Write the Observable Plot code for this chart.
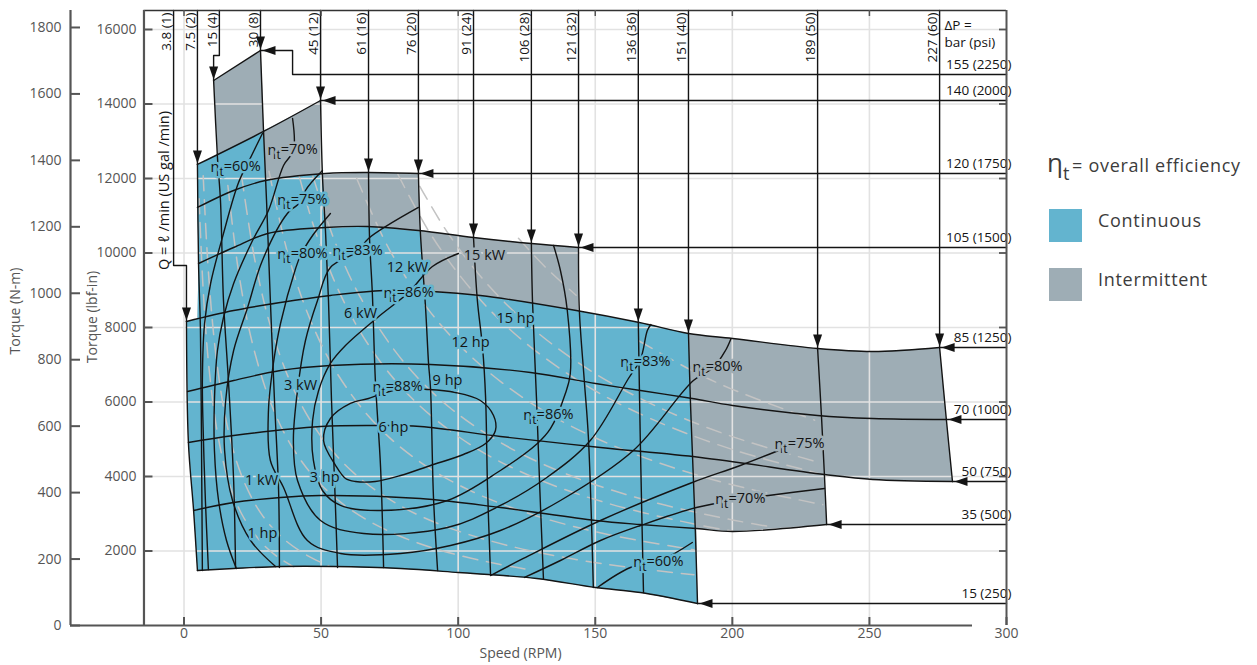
<!DOCTYPE html>
<html>
<head>
<meta charset="utf-8">
<script src="https://cdn.jsdelivr.net/npm/d3@7"></script>
<script src="https://cdn.jsdelivr.net/npm/@observablehq/plot@0.6"></script>
<style>
  html, body { margin: 0; padding: 0; background: #fff; }
  #wrap { position: relative; width: 1257px; height: 665px; font-family: "Open Sans", "Noto Sans", sans-serif; overflow: hidden; }
  #chart { position: absolute; left: 0; top: 0; }
  .lg { position: absolute; color: #3c3c3c; font-size: 18px; letter-spacing: 0.7px; white-space: nowrap; line-height: 1; }
  .sw { position: absolute; width: 33px; height: 33px; }
</style>
</head>
<body>
<div id="wrap">
  <div id="chart"></div>
  <div class="lg" style="left:1047px; top:149px;"><span style="font-size:26px; letter-spacing:0;">η</span><span style="font-size:18px; position:relative; top:8px; margin-right:2px;">t</span>= overall efficiency</div>
  <div class="sw" style="left:1049px; top:209px; background:#63b4cf;"></div>
  <div class="lg" style="left:1098px; top:211px;">Continuous</div>
  <div class="sw" style="left:1049px; top:268px; background:#9eadb5;"></div>
  <div class="lg" style="left:1098px; top:270px;">Intermittent</div>
</div>
<script>
// ---------------- DATA (Speed in RPM, Torque in lbf-in) ----------------
const xTicks = [0, 50, 100, 150, 200, 250, 300];
const lbfTicks = [2000, 4000, 6000, 8000, 10000, 12000, 14000, 16000];
const nmTicks = [0, 200, 400, 600, 800, 1000, 1200, 1400, 1600, 1800];

// constant pressure lines, ΔP bar (psi)
const pressures = [
  {bar: "15", psi: "250", pts: [[4.9,1477],[18.1,1530],[35.2,1584],[54.5,1584],[79.0,1530],[100.1,1423],[128.6,1262],[150.1,1020],[166.5,886],[187.3,591]]},
  {bar: "35", psi: "500", pts: [[3.5,3087],[18.1,3302],[35.2,3436],[49.8,3490],[86.2,3409],[115.4,3168],[150.1,2819],[166.5,2711],[186.9,2604],[200.1,2524],[234.4,2711]]},
  {bar: "50", psi: "750", pts: [[1.6,4913],[18.1,5101],[49.8,5342],[70.6,5369],[86.2,5342],[115.4,5074],[151.9,4779],[188.4,4510],[233.6,4054],[251.2,3920],[280.3,3866]]},
  {bar: "70", psi: "1000", pts: [[1.3,6282],[18.1,6577],[35.2,6846],[53.4,6980],[89.9,7007],[126.4,6792],[150.1,6497],[166.5,6309],[185.4,6094],[200.1,5906],[231.1,5638],[251.2,5557],[278.1,5530]]},
  {bar: "85", psi: "1250", pts: [[0.9,8161],[18.1,8456],[35.2,8671],[53.4,8859],[72.8,8993],[90.6,8967],[108.1,8859],[143.1,8456],[166.1,8134],[184.0,7839],[200.1,7705],[231.1,7436],[251.2,7356],[275.6,7463]]},
  {bar: "105", psi: "1500", pts: [[5.3,9718],[18.1,10148],[30.5,10524],[51.6,10685],[66.9,10712],[85.5,10604],[105.6,10416],[126.7,10255],[143.9,10148]]},
  {bar: "120", psi: "1750", pts: [[4.9,11222],[18.1,11678],[29.7,11946],[51.6,12134],[66.9,12161],[85.5,12134]]},
  {bar: "140", psi: "2000", pts: [[4.9,12376],[29.0,13262],[49.8,14094]]},
  {bar: "155", psi: "2250", pts: [[10.8,14631],[27.9,15436]]}
];

// constant flow lines, Q l/min (US gal/min); first point = top end
const flows = [
  {q: "3.8", gpm: "1", pts: [[0.9,8161],[1.6,4913],[3.5,3087],[4.9,1477]]},
  {q: "7.5", gpm: "2", pts: [[4.9,12376],[5.3,9718],[6.0,7920],[6.4,4698],[6.7,1477]]},
  {q: "15", gpm: "4", pts: [[10.8,14631],[12.2,12564],[13.3,11410],[14.4,8725],[16.2,6577],[18.1,3893],[18.8,1557]]},
  {q: "30", gpm: "8", pts: [[27.9,15436],[29.0,13289],[30.1,11410],[31.5,8725],[33.0,6040],[34.5,3624],[34.8,1557]]},
  {q: "45", gpm: "12", pts: [[49.8,14094],[50.5,12081],[51.6,10604],[52.7,8725],[53.8,6040],[54.9,3893],[56.0,1557]]},
  {q: "61", gpm: "16", pts: [[67.3,12161],[67.7,10336],[68.7,8913],[69.8,6577],[71.7,4242],[72.8,1557]]},
  {q: "76", gpm: "20", pts: [[85.5,12134],[86.2,10577],[88.1,8537],[89.2,7034],[89.9,6389],[91.0,3436],[92.5,1477]]},
  {q: "91", gpm: "24", pts: [[105.6,10416],[107.0,8725],[108.9,7463],[110.0,6121],[110.7,3705],[111.8,1396]]},
  {q: "106", gpm: "28", pts: [[126.7,10255],[127.1,8725],[128.6,6040],[129.7,3812],[131.1,1262]]},
  {q: "121", gpm: "32", pts: [[143.9,10148],[144.2,8456],[146.0,6577],[147.5,5047],[149.3,1020]]},
  {q: "136", gpm: "36", pts: [[165.7,8134],[166.5,4698],[167.6,886]]},
  {q: "151", gpm: "40", pts: [[184.0,7839],[184.7,6040],[185.4,4698],[186.5,2550],[187.3,591]]},
  {q: "189", gpm: "50", pts: [[231.1,7436],[232.5,5638],[233.6,4027],[234.4,2711]]},
  {q: "227", gpm: "60", pts: [[275.6,7463],[278.1,5503],[280.3,3866]]}
];

// operating envelopes
const continuous = [
  [4.9,1477],[3.5,3087],[1.6,4913],[0.9,8161],[4.9,8242],[5.3,9718],[4.9,11222],[4.9,12376],
  [17.0,12832],[29.0,13262],[29.7,11946],[40.7,12054],[50.5,12108],[51.6,10658],[66.9,10712],[86.2,10577],
  [87.7,8967],[90.6,8967],[108.1,8859],[126.4,8671],[143.1,8456],[166.1,8134],[184.0,7839],
  [185.4,4698],[187.3,591],[166.5,886],[150.1,1020],[128.6,1262],[100.1,1423],[79.0,1530],[54.5,1584],[35.2,1584],[18.1,1530]
];
const intermittent = [
  [4.9,1477],[3.5,3087],[1.6,4913],[0.9,8161],[4.9,8242],[5.3,9718],[4.9,11222],[4.9,12376],
  [12.2,12644],[10.8,14631],[19.5,15034],[27.9,15436],[28.6,14363],[29.0,13289],
  [39.6,13691],[49.8,14094],[50.1,13020],[50.5,12108],[66.9,12161],[85.5,12134],
  [85.9,11410],[86.2,10604],[105.6,10416],[126.7,10255],[143.9,10148],
  [143.9,9262],[143.9,8430],[166.1,8134],[184.0,7839],[200.1,7705],[231.1,7436],[251.2,7356],[275.6,7463],
  [278.1,5503],[280.3,3866],[251.2,3920],[233.6,4054],[234.4,2711],[200.1,2524],[186.9,2604],[187.3,591],
  [166.5,886],[150.1,1020],[128.6,1262],[100.1,1423],[79.0,1530],[54.5,1584],[35.2,1584],[18.1,1530]
];

// overall efficiency contours
const efficiency = [
  {name: "88", closed: true, pts: [[58.9,3946],[55.3,4295],[50.9,4967],[53.4,5557],[60.7,5960],[67.3,6094],[77.9,6336],[89.2,6336],[99.0,6255],[108.1,6040],[112.9,5638],[113.6,5235],[110.0,4886],[101.9,4591],[89.9,4295],[79.0,4027],[69.8,3866],[62.5,3866]]},
  {name: "86", pts: [[134.8,10201],[137.3,9530],[139.8,8456],[140.9,6765],[139.1,6228],[133.7,5289],[128.9,4886],[115.4,4161],[96.1,3356],[71.7,3087],[57.1,3222],[50.5,3624],[47.2,4430],[46.9,5503],[49.1,6309],[53.4,7034],[58.9,7517],[70.6,8269],[81.9,8940],[90.6,9638],[100.1,9987]]},
  {name: "83", pts: [[170.3,8080],[169.0,7920],[166.5,7150],[162.1,6631],[148.2,4967],[131.8,3946],[115.4,3222],[96.1,2631],[65.5,2470],[49.8,2819],[41.4,3893],[39.9,4967],[41.4,6309],[44.3,7651],[48.7,8725],[53.4,9611],[63.3,10040],[67.3,10389],[85.5,11222]]},
  {name: "80", pts: [[199.5,7700],[197.5,7383],[193.1,6926],[185.8,6577],[163.9,4698],[137.3,3356],[115.4,2550],[97.2,2148],[79.0,1933],[57.1,1933],[45.0,2282],[36.3,3705],[31.5,4430],[30.8,5772],[32.6,7034],[35.2,8107],[40.7,9584],[42.5,9933],[46.9,10470],[53.4,11061]]},
  {name: "75a", pts: [[50.5,12215],[44.3,11678],[43.2,11410],[37.7,11061],[28.6,9799],[23.2,8537],[18.1,7383],[15.2,6040],[14.8,4698],[17.7,3356],[24.3,2282],[33.4,1584]]},
  {name: "75b", pts: [[111.8,1342],[123.8,1799],[151.9,2819],[185.4,3839],[202.9,4295],[222.3,4859]]},
  {name: "70a", pts: [[39.6,13611],[39.9,12752],[36.3,12349],[30.8,11141],[25.0,10336],[18.1,9181],[14.4,8269],[12.2,7383],[11.1,6040],[11.1,4698],[12.6,3356],[15.5,2282],[19.1,1530]]},
  {name: "70b", pts: [[124.2,1289],[137.3,1745],[151.9,2282],[166.5,2685],[186.9,3168],[202.9,3383],[213.2,3490],[233.6,3678]]},
  {name: "60a", pts: [[28.6,13208],[24.3,12564],[19.9,11893],[14.4,10524],[9.7,9181],[7.5,8107],[6.7,6577],[7.1,4967],[7.8,3356],[8.9,1503]]},
  {name: "60b", pts: [[150.8,1020],[162.8,1557],[173.8,1745],[185.4,2228]]}
];

// output power lines (grey, dashed)
const power = [
  {name: "1 hp", pts: [[5.5,11455],[7,9000],[9,7000],[12,5250],[16,3938],[21,3000],[28,2250],[34,1850],[40,1575]]},
  {name: "1 kW", pts: [[7,12071],[9,9389],[12,7042],[16,5281],[21,4024],[28,3018],[36,2347],[45,1878],[53,1594]]},
  {name: "3 hp", pts: [[16,11813],[20,9450],[25,7560],[32,5906],[40,4725],[50,3780],[62,3048],[78,2423],[95,1989],[115,1643],[125,1512]]},
  {name: "3 kW", pts: [[21,12071],[26,9750],[32,7922],[40,6338],[50,5070],[62,4089],[78,3250],[96,2641],[120,2113],[145,1748],[165,1536],[186,1363]]},
  {name: "6 hp", pts: [[31,12194],[38,9947],[46,8217],[56,6750],[70,5400],[86,4395],[105,3600],[128,2953],[155,2439],[186,2032]]},
  {name: "6 kW", pts: [[42,12071],[48,10563],[58,8741],[70,7243],[85,5965],[105,4829],[128,3961],[155,3271],[187,2711],[200,2535]]},
  {name: "9 hp", pts: [[47,12064],[55,10309],[65,8723],[80,7088],[97,5845],[118,4805],[142,3993],[170,3335],[200,2835],[215,2637]]},
  {name: "12 hp", pts: [[63,12000],[75,10080],[90,8400],[108,7000],[130,5815],[155,4877],[185,4086],[210,3600],[233,3245]]},
  {name: "12 kW", pts: [[86,11791],[96,10563],[110,9218],[128,7922],[150,6760],[175,5794],[200,5070],[232,4370]]},
  {name: "15 hp", pts: [[78,12115],[90,10500],[105,9000],[122,7746],[145,6517],[170,5559],[200,4725],[231,4091]]},
  {name: "15 kW a", pts: [[122,10393],[132,9606],[143,8867]]},
  {name: "15 kW b", pts: [[166,7638],[185,6854],[200,6340],[230,5513]]}
];

// curve labels
const curveLabels = [
  {text: "ηt=60%", x: 18.8, y: 12295},
  {text: "ηt=70%", x: 39.6, y: 12752},
  {text: "ηt=75%", x: 43.2, y: 11410},
  {text: "ηt=80%", x: 43.2, y: 9960},
  {text: "ηt=83%", x: 63.3, y: 10040},
  {text: "ηt=86%", x: 81.9, y: 8913},
  {text: "ηt=88%", x: 77.9, y: 6389},
  {text: "ηt=86%", x: 132.9, y: 5638},
  {text: "ηt=83%", x: 168.3, y: 7061},
  {text: "ηt=80%", x: 194.6, y: 6926},
  {text: "ηt=75%", x: 224.5, y: 4859},
  {text: "ηt=70%", x: 202.9, y: 3383},
  {text: "ηt=60%", x: 173.0, y: 1691},
  {text: "1 kW", x: 28.3, y: 3893},
  {text: "3 kW", x: 42.5, y: 6443},
  {text: "6 kW", x: 64.4, y: 8376},
  {text: "12 kW", x: 81.5, y: 9611},
  {text: "15 kW", x: 109.6, y: 9933},
  {text: "1 hp", x: 28.6, y: 2470},
  {text: "3 hp", x: 51.3, y: 3973},
  {text: "6 hp", x: 76.4, y: 5315},
  {text: "9 hp", x: 96.1, y: 6577},
  {text: "12 hp", x: 104.5, y: 7597},
  {text: "15 hp", x: 120.9, y: 8242}
];

// leader bends (where an arrow does not drop straight to its corner)
const flowJogs = {"3.8": {x: -3.8, y: 9665}, "15": {x: 12.9, y: 15302}};
const pressureJogs = {"155": {x: 39.6, y: 14792}};

// ---------------- LAYOUT ----------------
const W = 1257, H = 665;
const M = {l: 70, r: 251, t: 10, b: 40};
const X0 = -41.4, X1 = 300, YTOP = 16510;
const INNER = -14.6, BOTTOM_END = 287.6, NM_POS = 8.919;
const pxPerX = (W - M.l - M.r) / (X1 - X0);
const pxPerY = (H - M.t - M.b) / YTOP;
const ux = px => px / pxPerX, uy = px => px / pxPerY;

const blueC = "#63b4cf", greyC = "#9eadb5", blk = "#141414", axisC = "#555";

const series = (arr, key) => arr.flatMap(s => s.pts.map(([x, y]) => ({k: s[key], x, y})));

const flowLeaders = flows.map(f => {
  const [tx, ty] = f.pts[0];
  const j = flowJogs[f.q];
  const path = j ? [[j.x, YTOP], [j.x, j.y], [tx, j.y], [tx, ty]] : [[tx, YTOP], [tx, ty]];
  return {k: "q" + f.q, path, labelX: path[0][0], text: `${f.q} (${f.gpm})`, tx, ty};
});
const pressureLeaders = pressures.map(p => {
  const [tx, ty] = p.pts[p.pts.length - 1];
  const j = pressureJogs[p.bar];
  const path = j ? [[X1, j.y], [j.x, j.y], [j.x, ty], [tx, ty]] : [[X1, ty], [tx, ty]];
  return {k: "p" + p.bar, path, labelY: path[0][1], text: `${p.bar} (${p.psi})`, tx, ty};
});
const leaderPts = [...flowLeaders, ...pressureLeaders].flatMap(l => l.path.map(([x, y]) => ({k: l.k, x, y})));

const headDown = {draw(c) { c.moveTo(0, 0); c.lineTo(-4.5, -13); c.lineTo(4.5, -13); c.closePath(); }};
const headLeft = {draw(c) { c.moveTo(0, 0); c.lineTo(13, -4.5); c.lineTo(13, 4.5); c.closePath(); }};

const inBlue = d => d3.polygonContains(continuous, [d.x, d.y]);
const lblOpts = {x: "x", y: "y", text: "text", fill: blk, fontSize: 14.5, strokeWidth: 5, strokeLinejoin: "round", paintOrder: "stroke"};

const chart = Plot.plot({
  width: W, height: H,
  marginLeft: M.l, marginRight: M.r, marginTop: M.t, marginBottom: M.b,
  x: {domain: [X0, X1], axis: null},
  y: {domain: [0, YTOP], axis: null},
  style: {fontFamily: "'Open Sans', 'Noto Sans', sans-serif", fontSize: "14px", background: "transparent", overflow: "visible"},
  marks: [
    // envelopes
    Plot.line(intermittent, {x: d => d[0], y: d => d[1], fill: greyC, stroke: "none"}),
    Plot.line(continuous, {x: d => d[0], y: d => d[1], fill: blueC, stroke: "none"}),
    // grid
    Plot.ruleX(xTicks.filter(v => v < X1), {x: d => d, y1: 0, y2: YTOP, stroke: "#e2e2e2", strokeWidth: 1.6}),
    Plot.ruleY(lbfTicks, {y: d => d, x1: INNER, x2: X1, stroke: "#e2e2e2", strokeWidth: 1.6}),
    // output power (dashed grey)
    Plot.line(series(power, "name"), {x: "x", y: "y", z: "k", stroke: "#c3c3c3", strokeWidth: 1.5, strokeDasharray: "15,9", curve: "catmull-rom"}),
    // pressure and flow lines
    Plot.line(series(pressures, "bar"), {x: "x", y: "y", z: "k", stroke: blk, strokeWidth: 1.4, curve: "catmull-rom"}),
    Plot.line(series(flows, "q"), {x: "x", y: "y", z: "k", stroke: blk, strokeWidth: 1.4, curve: "catmull-rom"}),
    // efficiency contours
    Plot.line(series(efficiency.filter(e => !e.closed), "name"), {x: "x", y: "y", z: "k", stroke: blk, strokeWidth: 1.4, curve: "catmull-rom"}),
    Plot.line(series(efficiency.filter(e => e.closed), "name"), {x: "x", y: "y", z: "k", stroke: blk, strokeWidth: 1.4, curve: "catmull-rom-closed"}),
    // leader arrows
    Plot.line(leaderPts, {x: "x", y: "y", z: "k", stroke: blk, strokeWidth: 1.4}),
    Plot.dot(flowLeaders, {x: "tx", y: "ty", symbol: headDown, fill: blk, stroke: "none", dy: -1}),
    Plot.dot(pressureLeaders, {x: "tx", y: "ty", symbol: headLeft, fill: blk, stroke: "none", dx: 2}),
    // leader labels
    Plot.text(flowLeaders, {x: "labelX", text: "text", frameAnchor: "top", rotate: -90, textAnchor: "end", dx: -12, dy: 2, fontSize: 13.5, fill: blk}),
    Plot.text(pressureLeaders, {y: "labelY", text: "text", frameAnchor: "right", textAnchor: "end", dx: 5, dy: -10, fontSize: 13.5, fill: blk}),
    Plot.text(["ΔP ="], {frameAnchor: "top-right", textAnchor: "start", dx: -62, dy: 10, fontSize: 13.5, fill: blk}),
    Plot.text(["bar (psi)"], {frameAnchor: "top-right", textAnchor: "start", dx: -62, dy: 27, fontSize: 13.5, fill: blk}),
    Plot.text(["Q = ℓ /min (US gal /min)"], {frameAnchor: "top-left", textAnchor: "middle", rotate: -90, dx: 88, dy: 180, fontSize: 14.5, fill: blk}),
    // curve labels (halo in the colour underneath)
    Plot.text(curveLabels.filter(inBlue), {...lblOpts, stroke: blueC}),
    Plot.text(curveLabels.filter(d => !inBlue(d)), {...lblOpts, stroke: greyC}),
    // axes frame
    Plot.ruleY([YTOP], {y: d => d, x1: INNER, x2: X1, stroke: "#333", strokeWidth: 1.5}),
    Plot.ruleX([X1], {x: d => d, y1: 0, y2: YTOP, stroke: axisC, strokeWidth: 2}),
    Plot.ruleX([X0, INNER], {x: d => d, y1: 0, y2: YTOP, stroke: axisC, strokeWidth: 2.2}),
    Plot.ruleY([0], {y: d => d, x1: X0, x2: BOTTOM_END, stroke: axisC, strokeWidth: 2.2}),
    // ticks
    Plot.ruleX(xTicks, {x: d => d, y1: 0, y2: uy(8), stroke: axisC, strokeWidth: 2}),
    Plot.ruleX(xTicks.filter(v => v < X1), {x: d => d, y1: YTOP, y2: YTOP - uy(6), stroke: axisC, strokeWidth: 1.5}),
    Plot.ruleY(lbfTicks, {y: d => d, x1: X1 - ux(7), x2: X1, stroke: axisC, strokeWidth: 1.8}),
    Plot.ruleY(lbfTicks, {y: d => d, x1: INNER, x2: INNER + ux(9), stroke: axisC, strokeWidth: 2}),
    Plot.ruleY(nmTicks, {y: d => d * NM_POS, x1: X0, x2: X0 + ux(10), stroke: axisC, strokeWidth: 2}),
    // tick labels
    Plot.text(xTicks, {x: d => d, text: d => String(d), frameAnchor: "bottom", dy: 12, fill: axisC, fontSize: 14}),
    Plot.text(lbfTicks, {y: d => d, text: d => String(d), frameAnchor: "left", textAnchor: "end", dx: 66, fill: axisC, fontSize: 14}),
    Plot.text(nmTicks, {y: d => d * NM_POS, text: d => String(d), frameAnchor: "left", textAnchor: "end", dx: -9, fill: axisC, fontSize: 14}),
    // axis titles
    Plot.text(["Torque (N-m)"], {frameAnchor: "left", textAnchor: "middle", rotate: -90, dx: -55, dy: -7, fill: axisC, fontSize: 14}),
    Plot.text(["Torque (lbf-in)"], {frameAnchor: "left", textAnchor: "middle", rotate: -90, dx: 22, dy: -1, fill: axisC, fontSize: 14}),
    Plot.text(["Speed (RPM)"], {frameAnchor: "bottom", textAnchor: "middle", dx: -18, dy: 32, fill: axisC, fontSize: 14})
  ]
});

// subscript t in the efficiency labels
d3.select(chart).selectAll("text").each(function () {
  const s = this.textContent;
  if (s.startsWith("ηt")) {
    const el = d3.select(this);
    el.text(null);
    el.append("tspan").text("η");
    el.append("tspan").attr("dy", "0.35em").attr("font-size", "0.85em").text("t");
    el.append("tspan").attr("dy", "-0.35em").text(s.slice(2));
  }
});

document.getElementById("chart").appendChild(chart);
</script>
</body>
</html>
